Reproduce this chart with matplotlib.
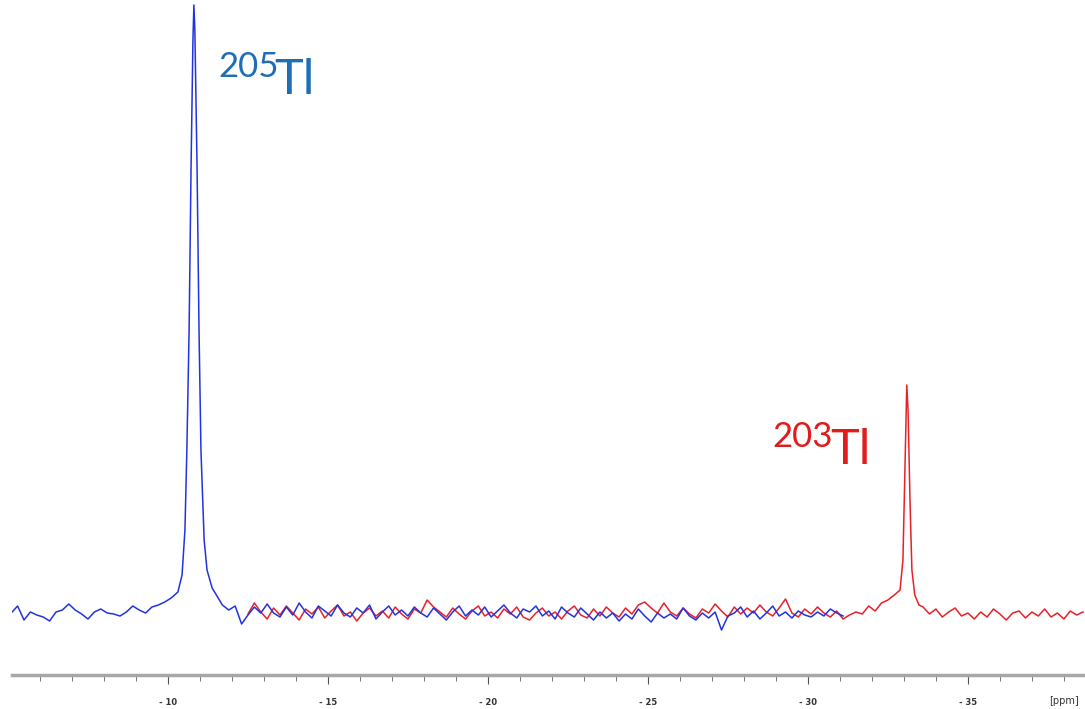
import numpy as np
import matplotlib
matplotlib.use("Agg")
from matplotlib import pyplot as plt
from matplotlib.ticker import MultipleLocator

# --- data (intensity in arbitrary units, baseline ~ 0) ---
# 205Tl (blue): baseline before the peak, -5.1 .. -10.1 ppm in 0.2 ppm steps
blue_pre = [-3, 4, -10, -2, -5, -7, -11, -2, 0, 6, 0, -4, -9, -2, 1, -3,
            -4, -6, -2, 4, 0, -3, 3, 5, 8, 12]
blue_peak_ppm = [-10.31, -10.44, -10.53, -10.59, -10.66, -10.72, -10.78, -10.81,
                 -10.84, -10.91, -10.97, -11.03, -11.13, -11.22, -11.38, -11.53]
blue_peak = [18, 35, 80, 160, 280, 440, 570, 605, 580, 440, 280, 160, 70, 40, 22, 14]
# baseline after the peak, -11.7 .. -31.1 ppm in 0.2 ppm steps
blue_post = [5, 0, 4, -14, -5, 3, -3, 6, -3, -7,
             3, -5, 7, -2, -8, 4, -1, -6, 5, -3,
             -7, 2, -3, 5, -9, -2, 4, -5, 0, -6,
             3, -3, -7, 2, -4, -10, -2, 4, -6, 0,
             -5, 3, -7, -1, 5, -3, -8, 1, -2, 4,
             -6, -1, -9, 3, -3, -7, 2, -4, -10, -2,
             -8, -3, -11, -4, -9, 1, -6, -12, -3, -8,
             -4, -9, 2, -6, -10, -3, -8, -2, -20, -6,
             -3, 3, -7, -1, -9, -3, 4, -6, -2, -8,
             -1, -5, -7, -2, -6, 1, -3, -6]

# 203Tl (red): baseline before the peak, -12.5 .. -32.7 ppm in 0.2 ppm steps
red_pre = [-4, 7, -2, -9, 2, -5, 4, -3, -10, 1,
           -4, 3, -8, -1, 5, -6, -2, -11, -3, 2,
           -6, -1, -8, 3, -4, -9, 1, -3, 10, 3,
           -2, -7, 2, -4, -9, -1, 4, -6, -2, -8,
           1, -4, 3, -7, -10, -3, 2, -6, -2, -9,
           -1, 4, -5, -8, 1, -6, 3, -3, -7, 2,
           -4, 5, 8, 2, -3, 7, -2, -6, 2, -4,
           -8, 1, -3, 6, -1, -7, 3, -4, 2, -3,
           5, -2, -6, 2, 11, -3, -7, 1, -4, 3,
           -3, -7, -1, -9, -5, -2, -4, 4, -1, 7,
           10, 15]
red_peak_ppm = [-32.88, -32.97, -33.03, -33.06, -33.09, -33.13, -33.19, -33.25, -33.34, -33.47]
red_peak = [20, 50, 140, 190, 225, 200, 110, 40, 15, 5]
# baseline after the peak, -33.6 .. -38.6 ppm in 0.2 ppm steps
red_post = [3, -4, 1, -7, -2, 2, -6, -3, -9, -2, -7, 1, -4, -10, -3, -1, -8,
            -2, -6, 1, -7, -3, -9, -1, -5, -2]

major_ticks = [-10, -15, -20, -25, -30, -35]
tick_labels = ["- 10", "- 15", "- 20", "- 25", "- 30", "- 35"]

# --- assemble the two traces ---
blue_ppm = np.concatenate([-5.1 - 0.2 * np.arange(len(blue_pre)), blue_peak_ppm,
                           -11.7 - 0.2 * np.arange(len(blue_post))])
blue_int = np.concatenate([blue_pre, blue_peak, blue_post])
red_ppm = np.concatenate([-12.5 - 0.2 * np.arange(len(red_pre)), red_peak_ppm,
                          -33.6 - 0.2 * np.arange(len(red_post))])
red_int = np.concatenate([red_pre, red_peak, red_post])

W, H = 1085, 709
fig = plt.figure(figsize=(W / 100, H / 100), dpi=100)
ax = fig.add_axes([12 / W, 34 / H, 1 - 12 / W, 1 - 34 / H])

ax.plot(red_ppm, red_int, color="#e8202a", lw=1.1)
ax.plot(blue_ppm, blue_int, color="#2233dd", lw=1.1)

ax.set_xlim(-5.125, -38.66)
ax.set_ylim(-65, 610)

for s in ["top", "left", "right"]:
    ax.spines[s].set_visible(False)
ax.spines["bottom"].set_color("#a8a8a8")
ax.spines["bottom"].set_linewidth(2.5)
ax.set_yticks([])
ax.set_xticks(major_ticks)
ax.set_xticklabels(tick_labels, fontweight="bold")
ax.xaxis.set_minor_locator(MultipleLocator(1))
ax.tick_params(axis="x", which="major", length=6.5, width=0.8, color="#555555",
               labelsize=6, labelcolor="#333333", pad=10)
ax.tick_params(axis="x", which="minor", length=4, width=0.7, color="#777777")

fig.text(1064 / W, 1 - 701 / H, "[ppm]", fontsize=7, color="#333333",
         ha="center", va="center")

# isotope labels
lab = dict(family=["Lato", "DejaVu Sans"], va="baseline")
fig.text(218 / W, 1 - 77 / H, "205", fontsize=25, color="#1f6eb5", **lab)
fig.text(274 / W, 1 - 94 / H, "Tl", fontsize=35, color="#1f6eb5", **lab)
fig.text(772 / W, 1 - 447 / H, "203", fontsize=25, color="#e31b1b", **lab)
fig.text(830 / W, 1 - 464 / H, "Tl", fontsize=35, color="#e31b1b", **lab)

fig.savefig("out.png", dpi=100)
